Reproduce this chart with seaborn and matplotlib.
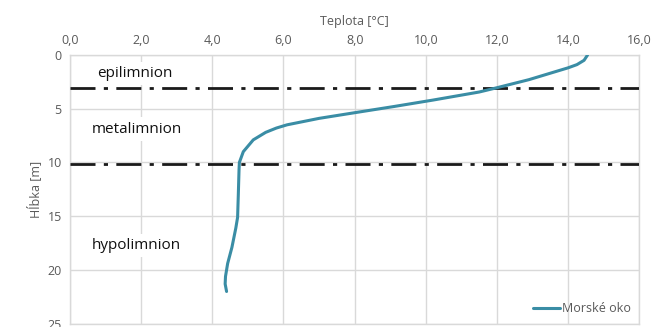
import matplotlib
matplotlib.use("Agg")
import matplotlib.pyplot as plt
import seaborn as sns
import pandas as pd
from matplotlib.ticker import FuncFormatter

# temperature profile
depth = [0.0, 0.5, 0.9, 1.2, 1.7, 2.3, 3.05, 3.45, 4.2, 4.8, 5.4, 5.9, 6.5, 6.8, 7.2, 7.9,
         9.0, 10.0, 10.7, 13.0, 15.1, 16.1, 17.9, 19.4, 20.6, 21.3, 22.0]
temp = [14.55, 14.45, 14.25, 14.0, 13.5, 12.9, 12.0, 11.5, 10.2, 9.1, 7.95, 7.0, 6.1, 5.8, 5.5, 5.15,
        4.87, 4.76, 4.75, 4.73, 4.71, 4.66, 4.55, 4.43, 4.37, 4.36, 4.4]

layer_bounds = [3.1, 10.1]
layer_names = ["epilimnion", "metalimnion", "hypolimnion"]
layer_label_pos = [(0.75, 1.7), (0.6, 6.9), (0.6, 17.7)]

series_name = "Morské oko"
line_color = "#3A8DA5"

df = pd.DataFrame({"Teplota": temp, "Hlbka": depth, "serie": series_name})

sns.set_style("white")
plt.rcParams["font.family"] = ["Open Sans", "DejaVu Sans"]

fig, ax = plt.subplots(figsize=(6.61, 3.27), dpi=100)
fig.subplots_adjust(left=0.106, right=0.967, top=0.832, bottom=0.01)

for b in layer_bounds:
    ax.axhline(b, color="#1a1a1a", lw=2.0, dashes=(9, 3, 1.5, 3), zorder=3)

sns.lineplot(data=df, x="Teplota", y="Hlbka", hue="serie", palette=[line_color],
             sort=False, estimator=None, lw=2.2, ax=ax, zorder=4)

for name, (xp, yp) in zip(layer_names, layer_label_pos):
    ax.text(xp, yp, name, fontsize=11, color="#111111", va="center", ha="left",
            bbox=dict(facecolor="white", edgecolor="none", pad=3), zorder=2)

ax.set_xlim(0, 16)
ax.set_ylim(25, 0)
ax.set_xticks(range(0, 17, 2))
ax.set_yticks(range(0, 26, 5))
ax.xaxis.set_major_formatter(FuncFormatter(lambda v, p: f"{v:.1f}".replace(".", ",")))
ax.xaxis.tick_top()
ax.xaxis.set_label_position("top")
ax.set_xlabel("Teplota [°C]", fontsize=9, color="#595959", labelpad=6)
ax.set_ylabel("Hĺbka [m]", fontsize=9, color="#595959", labelpad=4)
ax.tick_params(axis="both", length=0, labelsize=9, labelcolor="#595959", pad=6)

ax.grid(True, color="#d9d9d9", lw=1.0, zorder=0)
ax.set_axisbelow(True)
for s in ax.spines.values():
    s.set_color("#d9d9d9")
    s.set_linewidth(1.0)

leg = ax.legend(loc="lower right", frameon=False, fontsize=9, handlelength=2.2,
                handletextpad=0.1, borderaxespad=0.3)
for t in leg.get_texts():
    t.set_color("#595959")

fig.savefig("out.png", dpi=100)
